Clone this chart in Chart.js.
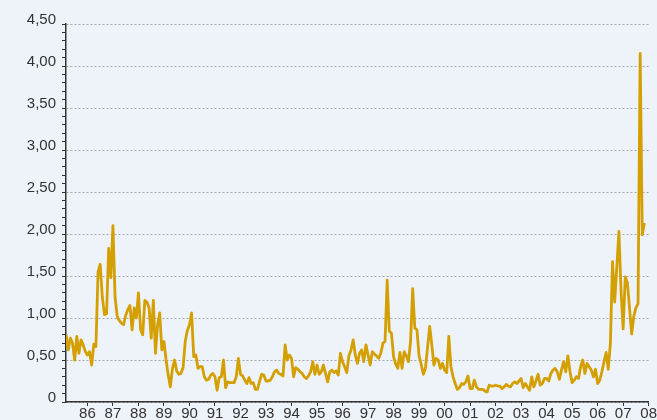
<!DOCTYPE html>
<html>
<head>
<meta charset="utf-8">
<script src="https://cdn.jsdelivr.net/npm/chart.js@4.4.1/dist/chart.umd.min.js"></script>
<style>
  html, body { margin: 0; padding: 0; background: #eef3fa; }
  #wrap { width: 657px; height: 420px; }
</style>
</head>
<body>
<div id="wrap"><canvas id="chart" width="657" height="420"></canvas></div>
<script>
// monthly values, series starts March 1985 and ends November 2007
var v1985 = [0.80, 0.62, 0.76, 0.70, 0.50, 0.78, 0.58, 0.74, 0.68, 0.60];
var v1986 = [0.56, 0.60, 0.44, 0.69, 0.66, 1.55, 1.64, 1.25, 1.04, 1.05, 1.83, 1.48];
var v1987 = [2.10, 1.25, 1.02, 0.97, 0.94, 0.92, 1.03, 1.10, 1.15, 0.86, 1.12, 1.00];
var v1988 = [1.30, 0.86, 0.80, 1.21, 1.19, 1.12, 0.76, 1.21, 0.58, 0.92, 1.06, 0.62];
var v1989 = [0.72, 0.50, 0.32, 0.18, 0.40, 0.50, 0.37, 0.33, 0.34, 0.41, 0.72, 0.85];
var v1990 = [0.92, 1.06, 0.54, 0.56, 0.40, 0.42, 0.42, 0.30, 0.26, 0.27, 0.32, 0.34];
var v1991 = [0.30, 0.14, 0.29, 0.30, 0.50, 0.17, 0.24, 0.23, 0.23, 0.23, 0.30, 0.52];
var v1992 = [0.33, 0.31, 0.26, 0.22, 0.29, 0.22, 0.23, 0.15, 0.15, 0.25, 0.33, 0.32];
var v1993 = [0.25, 0.25, 0.26, 0.30, 0.36, 0.38, 0.34, 0.33, 0.31, 0.68, 0.50, 0.56];
var v1994 = [0.52, 0.30, 0.41, 0.39, 0.36, 0.34, 0.30, 0.28, 0.31, 0.36, 0.48, 0.33];
var v1995 = [0.44, 0.33, 0.36, 0.44, 0.34, 0.24, 0.36, 0.38, 0.35, 0.37, 0.32, 0.58];
var v1996 = [0.48, 0.42, 0.35, 0.55, 0.62, 0.74, 0.56, 0.46, 0.58, 0.62, 0.48, 0.68];
var v1997 = [0.56, 0.44, 0.60, 0.57, 0.55, 0.52, 0.58, 0.70, 0.72, 1.45, 0.84, 0.82];
var v1998 = [0.54, 0.45, 0.40, 0.59, 0.40, 0.60, 0.55, 0.48, 0.72, 1.35, 0.88, 0.86];
var v1999 = [0.55, 0.45, 0.33, 0.40, 0.65, 0.90, 0.68, 0.44, 0.52, 0.50, 0.40, 0.46];
var v2000 = [0.38, 0.35, 0.78, 0.42, 0.30, 0.22, 0.15, 0.17, 0.22, 0.21, 0.24, 0.31];
var v2001 = [0.16, 0.16, 0.26, 0.18, 0.15, 0.15, 0.15, 0.13, 0.12, 0.20, 0.19, 0.19];
var v2002 = [0.20, 0.19, 0.19, 0.16, 0.18, 0.21, 0.19, 0.18, 0.22, 0.24, 0.22, 0.25];
var v2003 = [0.28, 0.17, 0.22, 0.18, 0.14, 0.30, 0.18, 0.25, 0.33, 0.20, 0.22, 0.28];
var v2004 = [0.28, 0.25, 0.34, 0.38, 0.40, 0.36, 0.27, 0.38, 0.48, 0.36, 0.55, 0.36];
var v2005 = [0.23, 0.26, 0.30, 0.28, 0.42, 0.50, 0.34, 0.46, 0.42, 0.38, 0.30, 0.39];
var v2006 = [0.22, 0.26, 0.36, 0.48, 0.59, 0.39, 0.70, 1.67, 1.19, 1.60, 2.03, 1.33];
var v2007 = [0.87, 1.49, 1.42, 1.12, 0.81, 1.02, 1.12, 1.17, 4.15, 1.99, 2.13];

var yearly = [v1985, v1986, v1987, v1988, v1989, v1990, v1991, v1992, v1993, v1994, v1995, v1996,
              v1997, v1998, v1999, v2000, v2001, v2002, v2003, v2004, v2005, v2006, v2007];

var years = [1986, 1987, 1988, 1989, 1990, 1991, 1992, 1993, 1994, 1995, 1996, 1997,
             1998, 1999, 2000, 2001, 2002, 2003, 2004, 2005, 2006, 2007, 2008];
var yearLabels = ['86', '87', '88', '89', '90', '91', '92', '93', '94', '95', '96', '97',
                  '98', '99', '00', '01', '02', '03', '04', '05', '06', '07', '08'];
var yTickLabels = ['0', '0,50', '1,00', '1,50', '2,00', '2,50', '3,00', '3,50', '4,00', '4,50'];

// x = year + month / 12, first value is March 1985
var points = [];
yearly.forEach((vals, i) => {
    var firstMonth = i == 0 ? 2 : 0;
    vals.forEach((v, m) => {
        points.push({ x: 1985 + i + (firstMonth + m) / 12, y: v });
    });
});

var axisColor = '#333333';
var labelFont = { family: "'Liberation Sans', Arial, sans-serif", size: 15, lineHeight: 1 };

function isMajor(value) {
    return Math.round(value * 10) % 5 === 0;
}

new Chart('chart', {
    type: 'line',
    data: {
        datasets: [{
            data: points,
            borderColor: '#d49f00',
            borderWidth: 2.8,
            pointRadius: 0,
            tension: 0,
            borderJoinStyle: 'round'
        }]
    },
    options: {
        responsive: false,
        animation: false,
        layout: { padding: { top: 24, right: 8, left: 0, bottom: 0 } },
        plugins: { legend: { display: false }, tooltip: { enabled: false } },
        scales: {
            x: {
                type: 'linear',
                min: 1985.16,
                max: 2008,
                afterBuildTicks: axis => { axis.ticks = years.map(v => ({ value: v })); },
                afterFit: axis => { axis.height = 18; },
                grid: { drawOnChartArea: false, drawTicks: true, tickLength: 4, tickColor: axisColor, tickWidth: 1 },
                border: { color: axisColor, width: 1.5 },
                ticks: {
                    autoSkip: false,
                    maxRotation: 0,
                    padding: 0,
                    color: axisColor,
                    font: labelFont,
                    callback: (value, index) => yearLabels[index]
                }
            },
            y: {
                min: 0,
                max: 4.5,
                afterFit: axis => { axis.width = 66; },
                grid: {
                    color: ctx => (ctx.tick && isMajor(ctx.tick.value)) ? '#a6a6a6' : 'rgba(0,0,0,0)',
                    lineWidth: 1,
                    tickColor: axisColor,
                    tickLength: 4,
                    tickWidth: 1,
                    tickBorderDash: []
                },
                border: { color: axisColor, width: 1.5, dash: [2, 2] },
                ticks: {
                    stepSize: 0.1,
                    autoSkip: false,
                    padding: 6,
                    labelOffset: -4,
                    color: axisColor,
                    font: labelFont,
                    callback: value => isMajor(value) ? yTickLabels[Math.round(value * 2)] : ''
                }
            }
        }
    }
});
</script>
</body>
</html>
